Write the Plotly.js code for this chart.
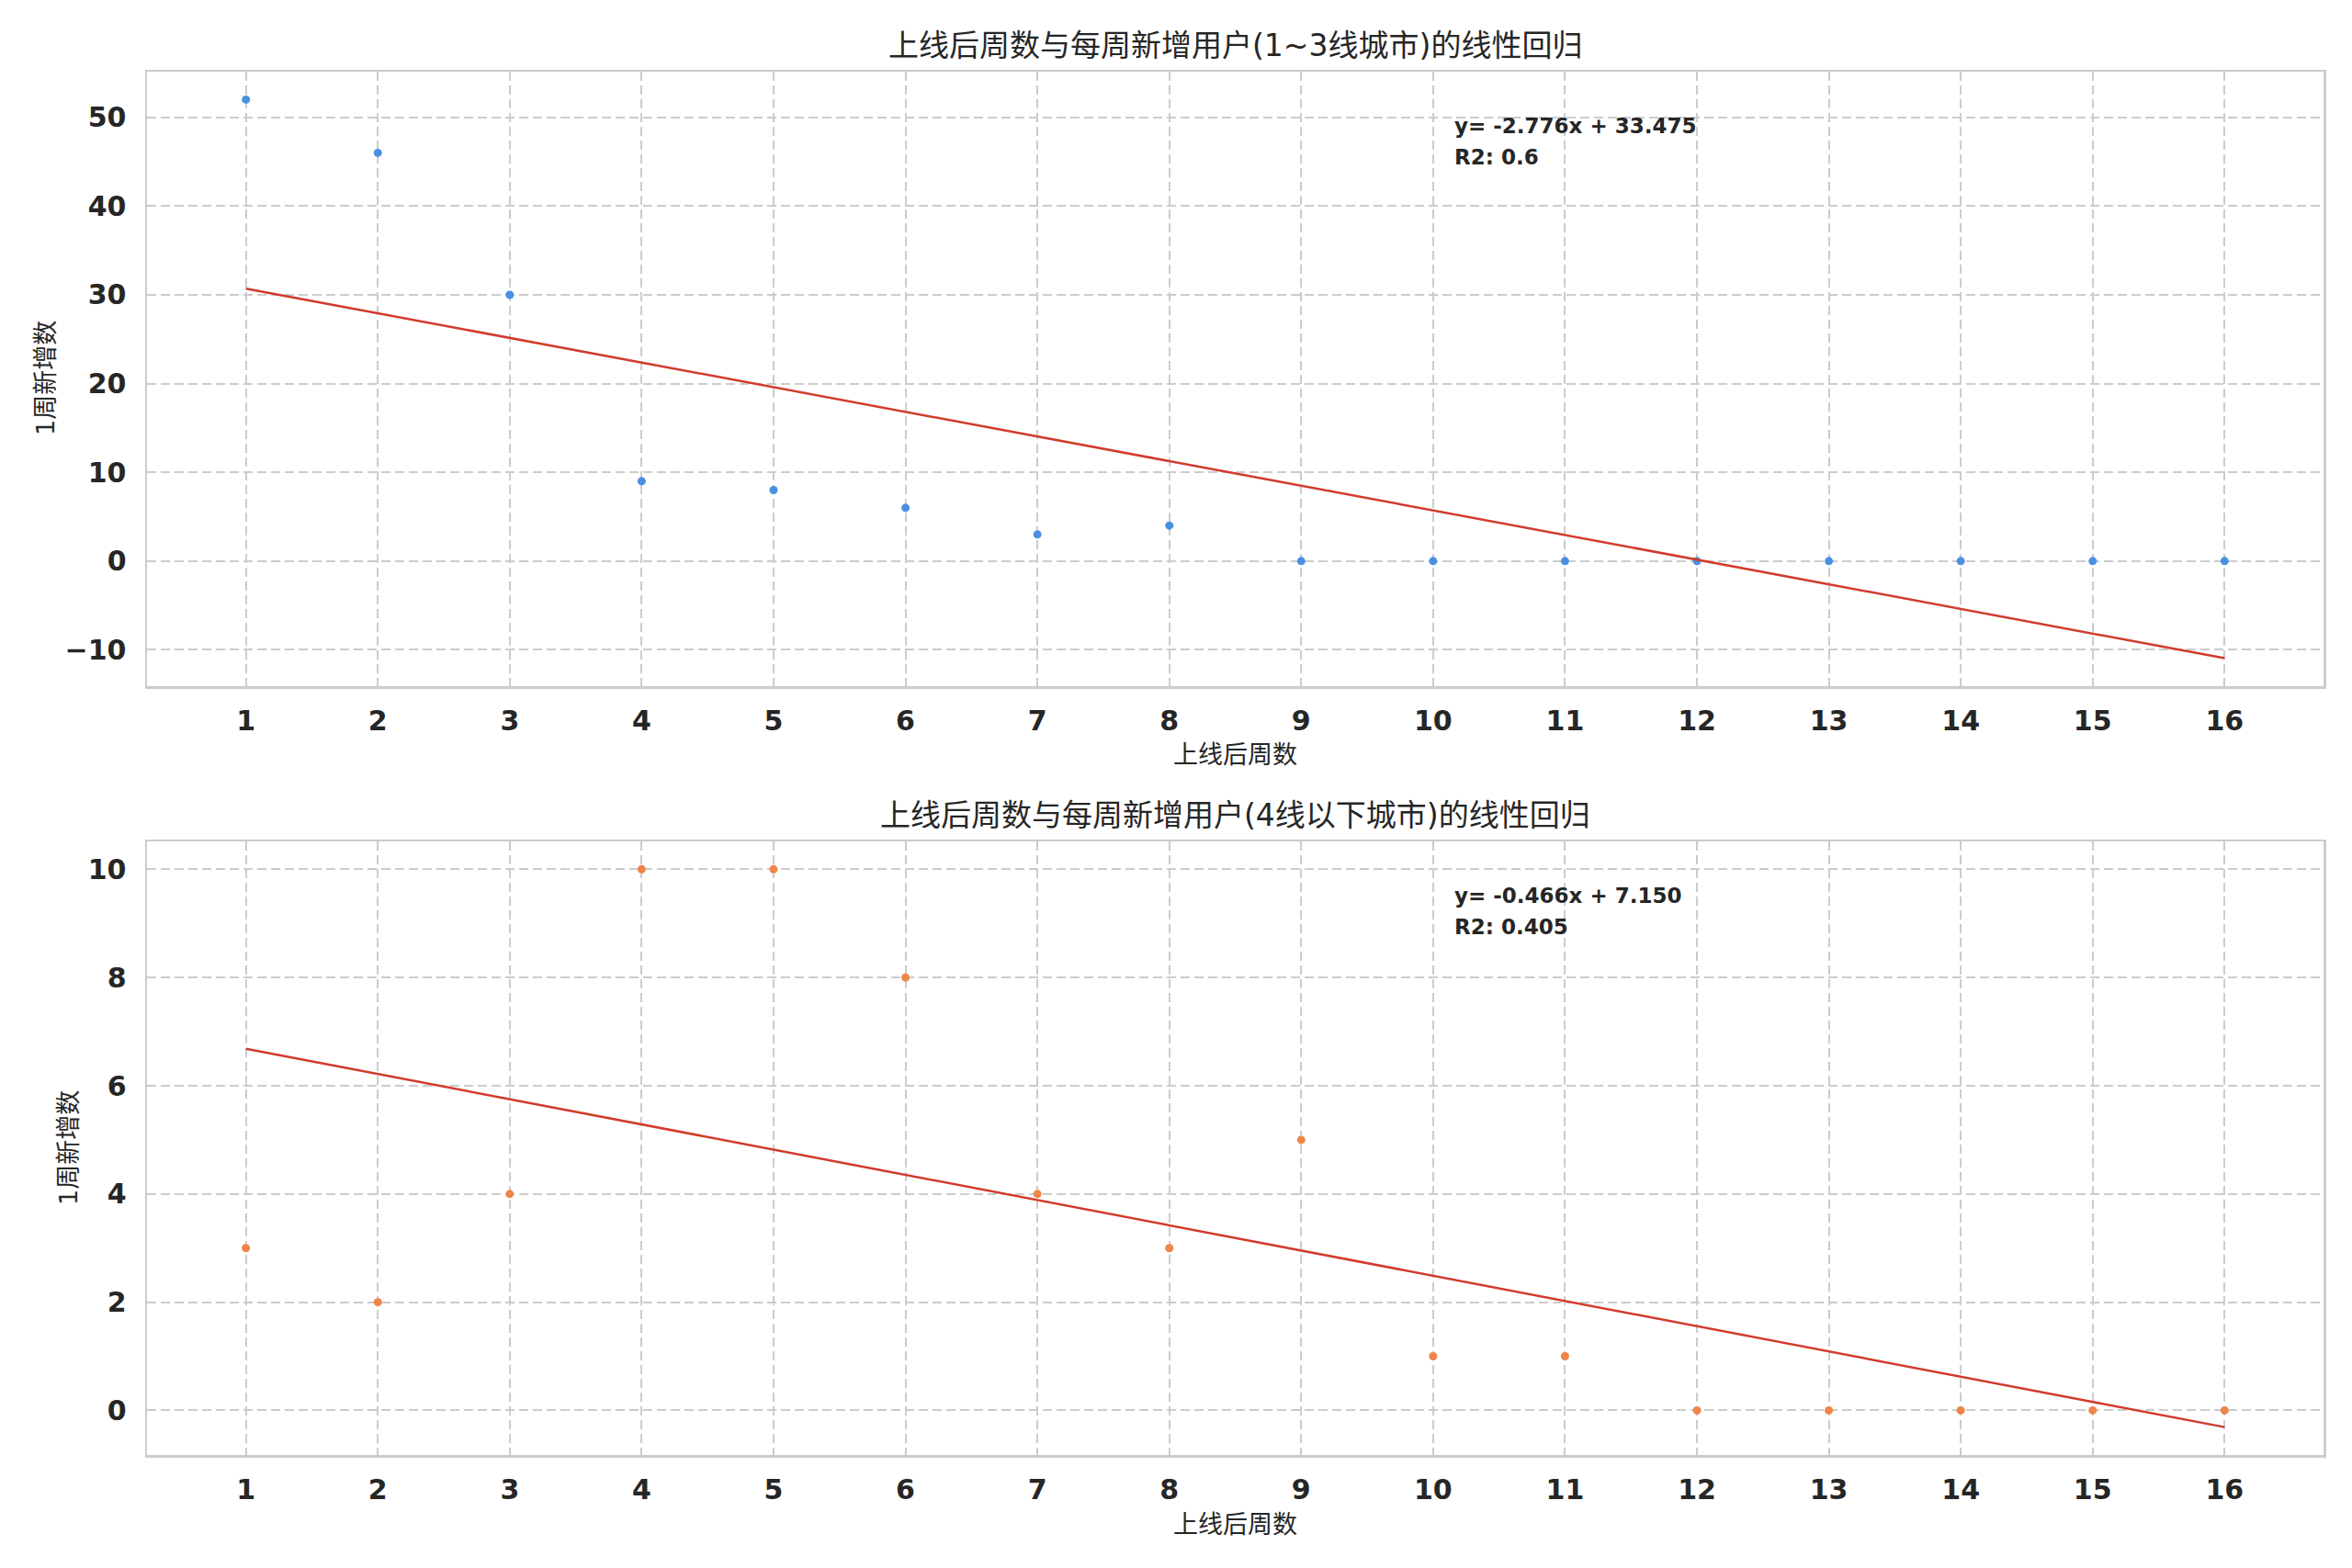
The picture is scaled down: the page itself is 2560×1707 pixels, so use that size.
<!DOCTYPE html>
<html>
<head>
<meta charset="utf-8">
<script src="https://cdn.plot.ly/plotly-3.0.1.min.js"></script>
<style>
html,body{margin:0;padding:0;background:#fff;}
#chart{width:2560px;height:1707px;}
</style>
</head>
<body>
<div id="chart"></div>
<script>
// ---- data ----
const weeks = [1,2,3,4,5,6,7,8,9,10,11,12,13,14,15,16];
const countsTier13 = [52,46,30,9,8,6,3,4,0,0,0,0,0,0,0,0];
const countsTier4 = [3,2,4,10,10,8,4,3,5,1,1,0,0,0,0,0];
const titleTop = "上线后周数与每周新增用户(1~3线城市)的线性回归";
const titleBottom = "上线后周数与每周新增用户(4线以下城市)的线性回归";
const xLabel = "上线后周数";
const yLabel = "1周新增数";
const eqTop = ["y= -2.776x + 33.475", "R2: 0.6"];
const eqBottom = ["y= -0.466x + 7.150", "R2: 0.405"];
const xTicks = weeks;

// ---- least squares fit (as the reference's regression line) ----
function fit(x, y){
  const n = x.length;
  const mx = x.reduce((a,b)=>a+b,0)/n, my = y.reduce((a,b)=>a+b,0)/n;
  let sxy=0, sxx=0;
  for(let i=0;i<n;i++){ sxy += (x[i]-mx)*(y[i]-my); sxx += (x[i]-mx)*(x[i]-mx); }
  const m = sxy/sxx; const b = my - m*mx;
  return x.map(v => m*v + b);
}
const fitTop = fit(weeks, countsTier13);
const fitBottom = fit(weeks, countsTier4);

function autoRange(arrs){
  let lo = Infinity, hi = -Infinity;
  arrs.forEach(a => a.forEach(v => { lo = Math.min(lo, v); hi = Math.max(hi, v); }));
  const pad = (hi-lo)*0.05;
  return [lo-pad, hi+pad];
}
const xr = autoRange([weeks]);

const FONT = "'DejaVu Sans', 'Noto Sans CJK SC', sans-serif";
const DARK = "#262626";
const RED = "#d13b2b";

const traces = [
  {x: weeks, y: countsTier13, type:'scatter', mode:'markers', xaxis:'x', yaxis:'y',
   marker:{color:'#4a90e2', size:9}, showlegend:false},
  {x: weeks, y: fitTop, type:'scatter', mode:'lines', xaxis:'x', yaxis:'y',
   line:{color:RED, width:2.5}, showlegend:false},
  {x: weeks, y: countsTier4, type:'scatter', mode:'markers', xaxis:'x2', yaxis:'y2',
   marker:{color:'#ef8548', size:9}, showlegend:false},
  {x: weeks, y: fitBottom, type:'scatter', mode:'lines', xaxis:'x2', yaxis:'y2',
   line:{color:RED, width:2.5}, showlegend:false}
];

function xaxisCfg(anchor){
  return {
    anchor: anchor, domain:[0,1], range: xr, tickmode:'array', tickvals: xTicks,
    showgrid:true, gridcolor:'#cccccc', gridwidth:2, griddash:'10px,5px',
    zeroline:false, showline:true, linecolor:'#cccccc', linewidth:2.5, mirror:true,
    ticks:'', ticklabelstandoff: 9,
    tickfont:{family:FONT, size:30, color:DARK, weight:'bold'}
  };
}
function yaxisCfg(anchor, domain, range, dtick){
  return {
    anchor: anchor, domain: domain, range: range, tickmode:'linear', tick0:0, dtick:dtick,
    showgrid:true, gridcolor:'#cccccc', gridwidth:2, griddash:'10px,5px',
    zeroline:false, showline:true, linecolor:'#cccccc', linewidth:2.5, mirror:true,
    ticks:'', ticklabelstandoff: 14,
    tickfont:{family:FONT, size:30, color:DARK, weight:'bold'}
  };
}

const H = 1506; const BOT = 1584;
const py = p => (BOT - p)/H;

function eqAnn(lines, topPx){
  return lines.map((t, i) => ({
    text:t, xref:'paper', yref:'paper', x:0.6, y:py(topPx + i*34), xanchor:'left', yanchor:'top',
    align:'left', showarrow:false, font:{family:FONT, size:23, color:DARK, weight:'bold'}
  }));
}

const annotations = [
  {text:titleTop, xref:'paper', yref:'paper', x:0.5, y:py(49), xanchor:'center', yanchor:'middle', showarrow:false,
   font:{family:FONT, size:33, color:DARK}},
  {text:titleBottom, xref:'paper', yref:'paper', x:0.5, y:py(887), xanchor:'center', yanchor:'middle', showarrow:false,
   font:{family:FONT, size:33, color:DARK}},
  {text:xLabel, xref:'paper', yref:'paper', x:0.5, y:py(821), xanchor:'center', yanchor:'middle', showarrow:false,
   font:{family:FONT, size:27, color:DARK}},
  {text:xLabel, xref:'paper', yref:'paper', x:0.5, y:py(1659), xanchor:'center', yanchor:'middle', showarrow:false,
   font:{family:FONT, size:27, color:DARK}},
  {text:yLabel, xref:'paper', yref:'paper', x:(49-160)/2369, y:py(412), xanchor:'center', yanchor:'middle', textangle:-90, showarrow:false,
   font:{family:FONT, size:27, color:DARK}},
  {text:yLabel, xref:'paper', yref:'paper', x:(74-160)/2369, y:py(1250), xanchor:'center', yanchor:'middle', textangle:-90, showarrow:false,
   font:{family:FONT, size:27, color:DARK}}
].concat(eqAnn(eqTop, 122), eqAnn(eqBottom, 960));

const layout = {
  width:2560, height:1707,
  margin:{l:160, r:31, t:78, b:123, pad:0},
  paper_bgcolor:'#ffffff', plot_bgcolor:'#ffffff',
  showlegend:false,
  xaxis: xaxisCfg('y'),
  yaxis: yaxisCfg('x', [(BOT-747)/H, 1], autoRange([countsTier13, fitTop]), 10),
  xaxis2: xaxisCfg('y2'),
  yaxis2: yaxisCfg('x2', [0, (BOT-916)/H], autoRange([countsTier4, fitBottom]), 2),
  annotations: annotations,
  font:{family:FONT, color:DARK}
};

Plotly.newPlot('chart', traces, layout, {displayModeBar:false, staticPlot:true});
</script>
</body>
</html>
